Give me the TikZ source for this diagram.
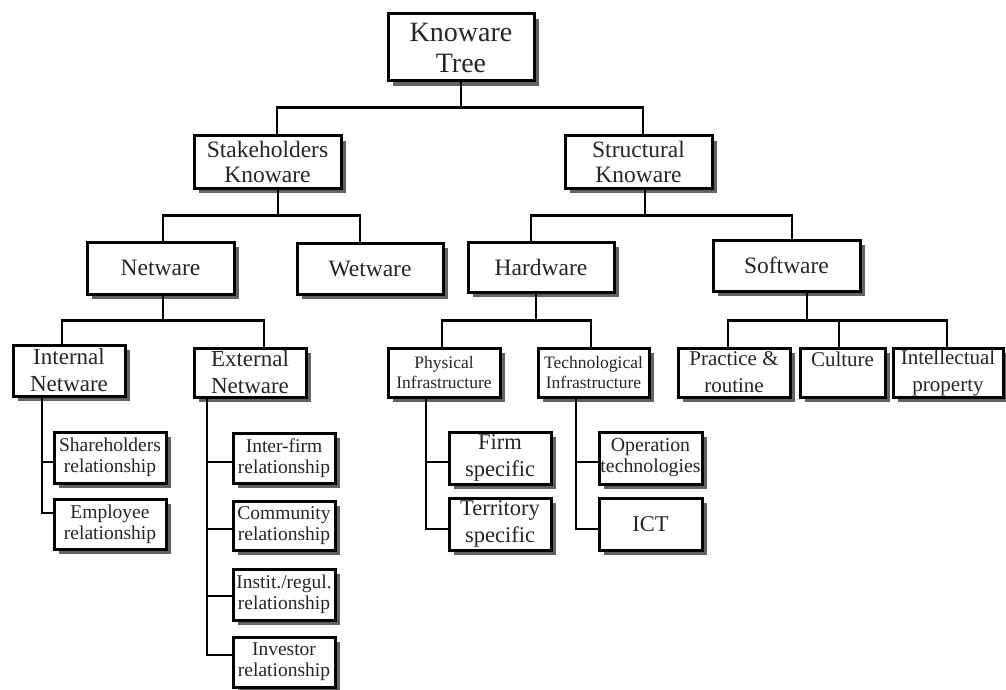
\documentclass[tikz,border=0pt]{standalone}
\usepackage{fontspec}
\setmainfont{Liberation Serif}
\usetikzlibrary{shadows}

\tikzset{
  box/.style={draw=black, line width=3pt, fill=white, inner sep=0pt,
    align=center, text=black!85,
    drop shadow={shadow xshift=5pt, shadow yshift=-5pt, fill=black!72, opacity=0.85}},
  sz/.style 2 args={minimum width=#1pt, minimum height=#2pt},
  conn/.style={draw=black, line width=2.8pt},
  ftop/.style={font=\fontsize{28}{31}\selectfont},
  fmid/.style={font=\fontsize{23.5}{25}\selectfont},
  fnet/.style={font=\fontsize{23}{27}\selectfont},
  finfra/.style={font=\fontsize{17.5}{20}\selectfont},
  fleaf/.style={font=\fontsize{19.5}{21}\selectfont},
  fspec/.style={font=\fontsize{22.5}{27}\selectfont},
  foper/.style={font=\fontsize{19.8}{21}\selectfont},
  fsoft/.style={font=\fontsize{21}{27}\selectfont},
}

\begin{document}
\begin{tikzpicture}[x=1pt, y=-1pt]
\fill[white] (0,0) rectangle (1006,690);
\useasboundingbox (0,0) rectangle (1006,690);

% root and first level
\node[box, ftop, sz={146}{67}] (root) at (461,47.5) {Knoware\\Tree};
\node[box, fmid, sz={147}{52}] (stake) at (267.5,162) {Stakeholders\\Knoware};
\node[box, fmid, sz={147}{52}] (struct) at (638.5,162) {Structural\\Knoware};

% second level
\node[box, fmid, sz={147}{52}] (netw) at (160.5,268) {Netware};
\node[box, fmid, sz={146}{51}] (wetw) at (370,268.5) {Wetware};
\node[box, fmid, sz={146}{50}] (hardw) at (541,267) {Hardware};
\node[box, fmid, sz={147}{51}] (softw) at (786.5,265.5) {Software};

% third level
\node[box, fnet, sz={112}{51}] (intnet) at (69,370.5) {Internal\\Netware};
\node[box, fnet, sz={112}{49}] (extnet) at (250,372.5) {External\\Netware};
\node[box, finfra, sz={112}{49}] (phys) at (444,372.5) {Physical\\Infrastructure};
\node[box, finfra, sz={111}{49}] (tech) at (593.5,372.5) {Technological\\Infrastructure};
\node[box, fsoft, sz={112}{49}] (pract) at (734,372.5) {Practice \&\\routine};
\node[box, fsoft, sz={85}{49}] (cult) at (842.5,372.5) {Culture\\~};
\node[box, fsoft, sz={110}{49}] (intel) at (948,372.5) {Intellectual\\property};

% leaves
\node[box, fleaf, sz={112}{51}] (share) at (110,457.5) {Shareholders\\relationship};
\node[box, fleaf, sz={112}{50}] (empl) at (110,524) {Employee\\relationship};
\node[box, fleaf, sz={102}{50}] (inter) at (284,458) {Inter-firm\\relationship};
\node[box, fleaf, sz={102}{49}] (comm) at (284,525.5) {Community\\relationship};
\node[box, fleaf, sz={102}{51}] (instit) at (284,594.5) {Instit./regul.\\relationship};
\node[box, fleaf, sz={102}{50}] (invest) at (284,662) {Investor\\relationship};
\node[box, fspec, sz={102}{52}] (firm) at (500,458) {Firm\\specific};
\node[box, fspec, sz={102}{52}] (terr) at (500,524) {Territory\\specific};
\node[box, foper, sz={103}{52}] (oper) at (650.5,458) {Operation\\technologies};
\node[box, fspec, sz={103}{52}] (ict) at (650.5,524) {ICT};

% tree connectors
\draw[conn] (root.south) -- ++(0,25) coordinate (j1);
\draw[conn] ([xshift=9.5pt]stake.north) |- (j1) -| ([xshift=4.5pt]struct.north);

\draw[conn] ([xshift=10.5pt]stake.south) -- ++(0,26) coordinate (j2);
\draw[conn] ([xshift=2.5pt]netw.north) |- (j2) -| ([xshift=-10pt]wetw.north);

\draw[conn] ([xshift=6.5pt]struct.south) -- ++(0,26) coordinate (j3);
\draw[conn] ([xshift=-10pt]hardw.north) |- (j3) -| ([xshift=5.5pt]softw.north);

\draw[conn] ([xshift=2.5pt]netw.south) -- ++(0,25) coordinate (j4);
\draw[conn] ([xshift=-7pt]intnet.north) |- (j4) -| ([xshift=14pt]extnet.north);

\draw[conn] ([xshift=-5pt]hardw.south) -- ++(0,27) coordinate (j5);
\draw[conn] ([xshift=-2pt]phys.north) |- (j5) -| ([xshift=-2.5pt]tech.north);

\draw[conn] ([xshift=20.5pt]softw.south) -- ++(0,28) coordinate (j6);
\draw[conn] ([xshift=-6pt]pract.north) |- (j6) -| ([xshift=-1pt]intel.north);
\draw[conn] ([xshift=-3.5pt]cult.north) -- ([xshift=-3.5pt]cult.north |- j6);

% side branches
\draw[conn] ([xshift=-27pt]intnet.south) |- ([yshift=-4.5pt]share.west);
\draw[conn] ([xshift=-27pt]intnet.south) |- ([yshift=11pt]empl.west);

\draw[conn] ([xshift=-43pt]extnet.south) |- ([yshift=-4pt]inter.west);
\draw[conn] ([xshift=-43pt]extnet.south) |- ([yshift=-3.5pt]comm.west);
\draw[conn] ([xshift=-43pt]extnet.south) |- ([yshift=-1.5pt]instit.west);
\draw[conn] ([xshift=-43pt]extnet.south) |- ([yshift=7pt]invest.west);

\draw[conn] ([xshift=-18pt]phys.south) |- ([yshift=-4pt]firm.west);
\draw[conn] ([xshift=-18pt]phys.south) |- ([yshift=-5pt]terr.west);

\draw[conn] ([xshift=-17.5pt]tech.south) |- ([yshift=-4pt]oper.west);
\draw[conn] ([xshift=-17.5pt]tech.south) |- ([yshift=-5pt]ict.west);
\end{tikzpicture}
\end{document}
